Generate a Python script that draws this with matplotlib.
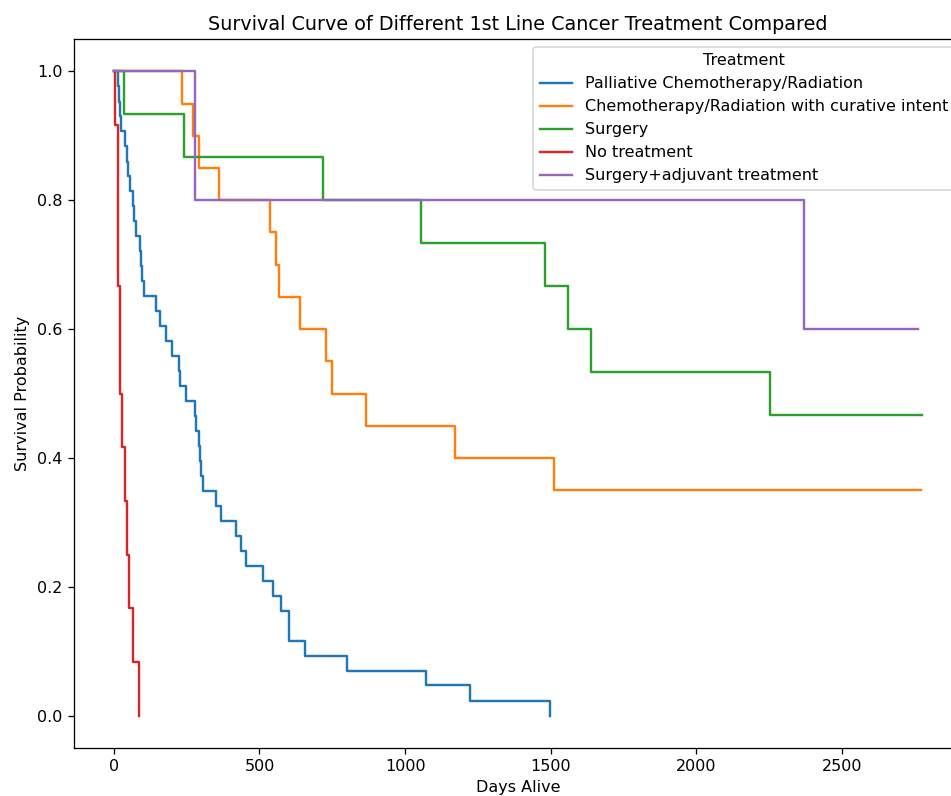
import matplotlib
matplotlib.use("Agg")
import matplotlib.pyplot as plt

# ---- data ----
treatments = [
    "Palliative Chemotherapy/Radiation",
    "Chemotherapy/Radiation with curative intent",
    "Surgery",
    "No treatment",
    "Surgery+adjuvant treatment",
]

palliative_days = [0, 14, 19, 22, 25, 38, 45, 50, 57, 66, 70, 77, 88, 92, 96, 103,
                   146, 157, 178, 200, 223, 226, 246, 277, 283, 292, 297, 300, 306,
                   352, 369, 421, 438, 453, 512, 546, 575, 601, 655, 802, 1073, 1222, 1497]
palliative_surv = [1.000, 0.977, 0.953, 0.930, 0.907, 0.884, 0.860, 0.837, 0.814, 0.791,
                   0.767, 0.744, 0.721, 0.698, 0.674, 0.651, 0.628, 0.605, 0.581, 0.558,
                   0.535, 0.512, 0.488, 0.465, 0.442, 0.419, 0.395, 0.372, 0.349, 0.326,
                   0.302, 0.279, 0.256, 0.233, 0.209, 0.186, 0.163, 0.116, 0.093, 0.070,
                   0.047, 0.023, 0.000]

curative_days = [0, 234, 271, 292, 361, 535, 558, 566, 640, 730, 749, 865, 1170, 1511, 2771]
curative_surv = [1.00, 0.95, 0.90, 0.85, 0.80, 0.75, 0.70, 0.65, 0.60, 0.55, 0.50, 0.45,
                 0.40, 0.35, 0.35]

surgery_days = [0, 34, 241, 718, 1054, 1482, 1558, 1638, 2253, 2775]
surgery_surv = [1.000, 0.933, 0.867, 0.800, 0.733, 0.667, 0.600, 0.533, 0.467, 0.467]

notreat_days = [0, 3, 15, 21, 29, 38, 45, 52, 66, 86]
notreat_surv = [1.000, 0.917, 0.667, 0.500, 0.417, 0.333, 0.250, 0.167, 0.083, 0.000]

adjuvant_days = [0, 279, 2371, 2760]
adjuvant_surv = [1.0, 0.8, 0.6, 0.6]

series = [
    (palliative_days, palliative_surv),
    (curative_days, curative_surv),
    (surgery_days, surgery_surv),
    (notreat_days, notreat_surv),
    (adjuvant_days, adjuvant_surv),
]

# ---- figure ----
DPI = 115
fig = plt.figure(figsize=(951 / DPI, 796 / DPI), dpi=DPI)
ax = fig.add_axes([73.5 / 951, 48.1 / 796, 888.8 / 951, 708.8 / 796])

for name, (d, s) in zip(treatments, series):
    ax.step(d, s, where="post", label=name, linewidth=1.5)

ax.set_title("Survival Curve of Different 1st Line Cancer Treatment Compared")
ax.set_xlabel("Days Alive")
ax.set_ylabel("Survival Probability")
ax.set_yticks([0.0, 0.2, 0.4, 0.6, 0.8, 1.0])
ax.set_xticks([0, 500, 1000, 1500, 2000, 2500])
ax.legend(title="Treatment", loc="upper right")

fig.savefig("out.png", dpi=DPI)
